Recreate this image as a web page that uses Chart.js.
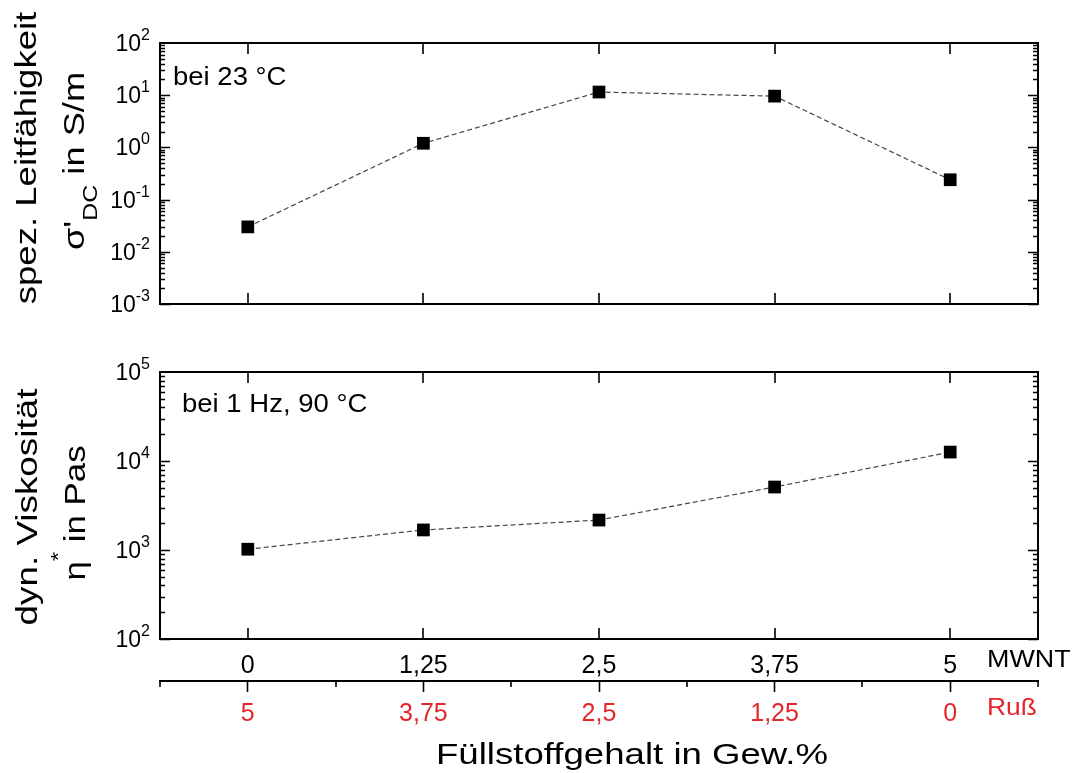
<!DOCTYPE html>
<html><head><meta charset="utf-8">
<script src="https://cdn.jsdelivr.net/npm/chart.js@4.4.1/dist/chart.umd.min.js"></script>
<style>
html,body{margin:0;padding:0;background:#fff;width:1081px;height:773px;overflow:hidden}
canvas{position:absolute;left:0;top:0}
</style></head><body>
<canvas id="c1" width="1081" height="773"></canvas>
<canvas id="c2" width="1081" height="773"></canvas>
<script>
// ---- data ----
const mwntContent = [0, 1.25, 2.5, 3.75, 5];
const mwntTickLabels = ['0', '1,25', '2,5', '3,75', '5'];
const russTickLabels = ['5', '3,75', '2,5', '1,25', '0'];
const russMinorTicks = [-0.625, 0.625, 1.875, 3.125, 4.375, 5.625];
const conductivity = [0.03, 1.2, 11.5, 9.6, 0.24];
const viscosity = [1020, 1680, 2170, 5100, 12600];
const condTicks = [1e-3, 1e-2, 1e-1, 1e0, 1e1, 1e2];
const condTickExponents = ['-3', '-2', '-1', '0', '1', '2'];
const viscTicks = [1e2, 1e3, 1e4, 1e5];
const viscTickExponents = ['2', '3', '4', '5'];

const FONT = "'Liberation Sans', Arial, Helvetica, sans-serif";
const RED = '#e3262b';
Chart.defaults.font.family = FONT;
Chart.defaults.color = '#000';

function drawText(ctx, x, y, parts, o) {
  o = o || {};
  const sx = o.sx || 1, rot = o.rot || 0, align = o.align || 'center';
  ctx.save();
  ctx.translate(x, y);
  if (rot) ctx.rotate(rot);
  ctx.scale(sx, 1);
  let total = 0;
  parts.forEach(p => { ctx.font = p.size + 'px ' + FONT; p.w = ctx.measureText(p.t).width; total += p.w; });
  let cx = align === 'center' ? -total / 2 : (align === 'right' ? -total : 0);
  ctx.textBaseline = 'alphabetic';
  ctx.textAlign = 'left';
  parts.forEach(p => {
    ctx.font = p.size + 'px ' + FONT;
    ctx.fillStyle = p.color || '#000';
    ctx.fillText(p.t, cx, p.dy || 0);
    cx += p.w;
  });
  ctx.restore();
}

const frameTicks = {
  id: 'frameTicks',
  afterDraw(chart) {
    const {ctx, chartArea: a} = chart;
    const xs = chart.scales.x, ys = chart.scales.y;
    ctx.save();
    ctx.strokeStyle = '#000';
    ctx.lineWidth = 2;
    ctx.strokeRect(a.left, a.top, a.right - a.left, a.bottom - a.top);
    ctx.lineWidth = 1.6;
    ctx.beginPath();
    mwntContent.forEach(v => {
      const px = Math.round(xs.getPixelForValue(v));
      ctx.moveTo(px, a.bottom); ctx.lineTo(px, a.bottom - 11);
      ctx.moveTo(px, a.top); ctx.lineTo(px, a.top + 11);
    });
    const lo = Math.round(Math.log10(ys.min)), hi = Math.round(Math.log10(ys.max));
    for (let e = lo; e < hi; e++) {
      for (let k = 1; k <= 9; k++) {
        const py = Math.round(ys.getPixelForValue(k * Math.pow(10, e))) + 0.5;
        const len = k === 1 ? 10 : 5;
        ctx.moveTo(a.left, py); ctx.lineTo(a.left + len, py);
        ctx.moveTo(a.right, py); ctx.lineTo(a.right - len, py);
      }
    }
    ctx.stroke();
    ctx.restore();
    // y tick labels: "10" with superscript exponent, at the scale's tick positions
    const exps = chart.options.plugins.frameTicks.exponents;
    ys.ticks.forEach((t, i) => {
      const py = ys.getPixelForValue(t.value);
      drawText(ctx, a.left - 10, py + 8, [{t: '10', size: 23}, {t: exps[i], size: 16, dy: -11}], {align: 'right'});
    });
  }
};

function lineDataset(vals) {
  return {
    data: mwntContent.map((x, i) => ({x: x, y: vals[i]})),
    borderColor: '#444',
    borderWidth: 1.2,
    borderDash: [5, 3],
    pointStyle: 'rect',
    pointRadius: 9,
    pointHoverRadius: 9,
    pointBackgroundColor: '#000',
    pointBorderColor: '#000',
    pointBorderWidth: 0,
    tension: 0
  };
}

function yScale(min, max, ticks) {
  return {
    type: 'logarithmic', min: min, max: max,
    afterBuildTicks: s => { s.ticks = ticks.map(v => ({value: v, major: true})); },
    afterFit: s => { s.width = 160; },
    grid: {display: false, drawTicks: false},
    border: {display: false},
    ticks: {display: false}
  };
}

// ---- top chart ----
new Chart(document.getElementById('c1'), {
  type: 'line',
  data: {datasets: [lineDataset(conductivity)]},
  options: {
    responsive: false, animation: false, devicePixelRatio: 1,
    layout: {padding: {left: 0, right: 43, top: 43, bottom: 469}},
    plugins: {legend: {display: false}, tooltip: {enabled: false}, frameTicks: {exponents: condTickExponents}},
    scales: {
      x: {type: 'linear', min: -0.625, max: 5.625,
          afterBuildTicks: s => { s.ticks = mwntContent.map(v => ({value: v})); },
          afterFit: s => { s.height = 0; },
          grid: {display: false, drawTicks: false}, border: {display: false},
          ticks: {display: false}},
      y: yScale(1e-3, 1e2, condTicks)
    }
  },
  plugins: [frameTicks, {
    id: 'texts1',
    afterDraw(chart) {
      const ctx = chart.ctx;
      drawText(ctx, 36, 158, [{t: 'spez. Leitfähigkeit', size: 29}], {rot: -Math.PI / 2, sx: 1.26});
      drawText(ctx, 84, 161, [{t: 'σ\'', size: 29}, {t: 'DC', size: 20, dy: 13}, {t: ' in S/m', size: 29}], {rot: -Math.PI / 2, sx: 1.25});
      drawText(ctx, 173, 85, [{t: 'bei 23 °C', size: 25}], {align: 'left', sx: 1.1});
    }
  }]
});

// ---- bottom chart ----
new Chart(document.getElementById('c2'), {
  type: 'line',
  data: {datasets: [lineDataset(viscosity)]},
  options: {
    responsive: false, animation: false, devicePixelRatio: 1,
    layout: {padding: {left: 0, right: 43, top: 372, bottom: 0}},
    plugins: {legend: {display: false}, tooltip: {enabled: false}, frameTicks: {exponents: viscTickExponents}},
    scales: {
      x: {type: 'linear', position: 'bottom', weight: 0, min: -0.625, max: 5.625,
          afterBuildTicks: s => { s.ticks = mwntContent.map(v => ({value: v})); },
          afterFit: s => { s.height = 42; },
          grid: {display: false, drawTicks: false}, border: {display: false},
          ticks: {padding: 12, font: {size: 25}, color: '#000', maxRotation: 0,
                  callback: (v, i) => mwntTickLabels[i]}},
      x2: {type: 'linear', position: 'bottom', weight: 1, min: -0.625, max: 5.625,
          afterBuildTicks: s => { s.ticks = mwntContent.map(v => ({value: v})); },
          afterFit: s => { s.height = 92; },
          grid: {display: true, drawOnChartArea: false, drawTicks: true, tickLength: 11, tickColor: '#000', tickWidth: 1.6},
          border: {display: true, color: '#000', width: 2},
          ticks: {padding: 7, font: {size: 25}, color: RED, maxRotation: 0,
                  callback: (v, i) => russTickLabels[i]}},
      y: yScale(1e2, 1e5, viscTicks)
    }
  },
  plugins: [frameTicks, {
    id: 'texts2',
    afterDraw(chart) {
      const ctx = chart.ctx;
      const x2 = chart.scales.x2;
      ctx.save();
      ctx.strokeStyle = '#000'; ctx.lineWidth = 1.6;
      ctx.beginPath();
      russMinorTicks.forEach(v => {
        const px = Math.round(x2.getPixelForValue(v));
        ctx.moveTo(px, x2.top); ctx.lineTo(px, x2.top + 6);
      });
      ctx.stroke();
      ctx.restore();
      drawText(ctx, 37, 507, [{t: 'dyn. Viskosität', size: 29}], {rot: -Math.PI / 2, sx: 1.27});
      drawText(ctx, 85, 513, [{t: 'η', size: 29}, {t: '*', size: 20, dy: -20}, {t: ' in Pas', size: 29}], {rot: -Math.PI / 2, sx: 1.2});
      drawText(ctx, 182, 412, [{t: 'bei 1 Hz, 90 °C', size: 25}], {align: 'left', sx: 1.1});
      drawText(ctx, 987, 667, [{t: 'MWNT', size: 24}], {align: 'left', sx: 1.12});
      drawText(ctx, 987, 715, [{t: 'Ruß', size: 24, color: RED}], {align: 'left', sx: 1.1});
      drawText(ctx, 632, 764, [{t: 'Füllstoffgehalt in Gew.%', size: 30}], {sx: 1.22});
    }
  }]
});
</script>
</body></html>
